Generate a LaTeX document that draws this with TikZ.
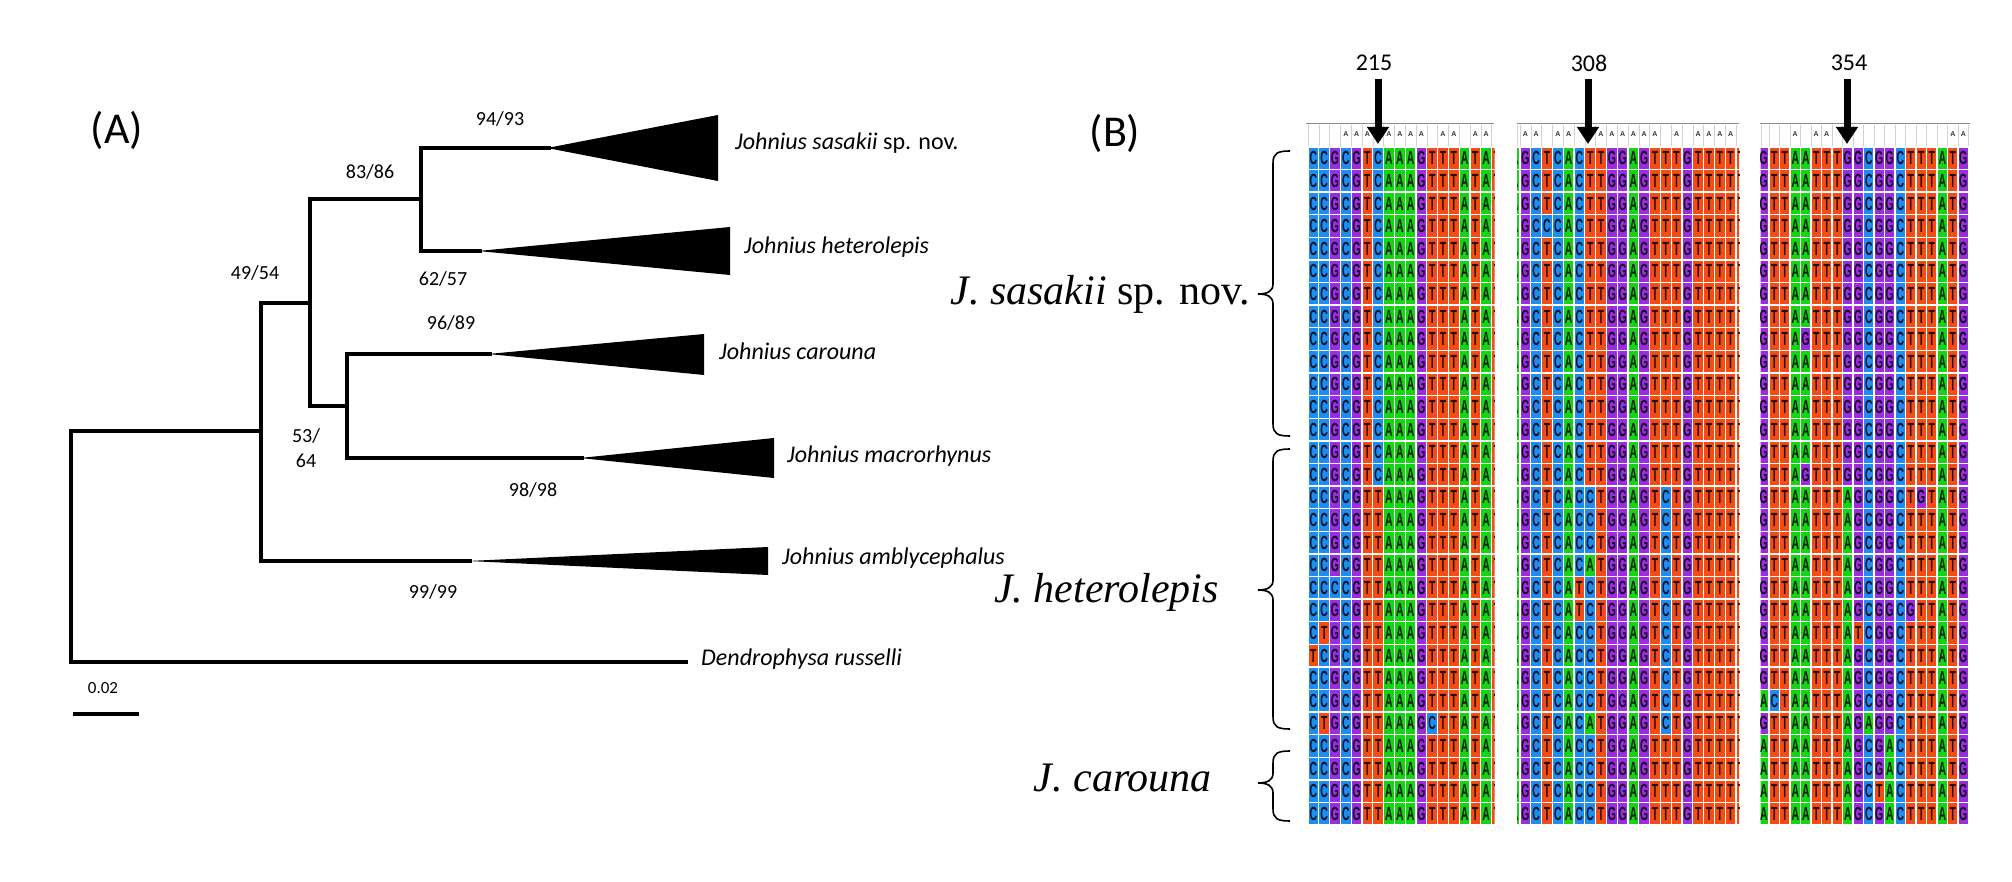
\documentclass[tikz,border=0pt]{standalone}
\usepackage{fontspec}
\usepackage{graphicx}
\setmainfont{Carlito}
\newfontfamily\tnr{Liberation Serif}
\newfontfamily\cellfont{Liberation Sans}
\usetikzlibrary{arrows.meta}
\definecolor{cA}{RGB}{20,212,20}
\definecolor{cC}{RGB}{30,140,240}
\definecolor{cG}{RGB}{155,45,225}
\definecolor{cT}{RGB}{245,75,20}
\newcommand\fsz[1]{\fontsize{#1}{#1}\selectfont}
\newcount\cellno
\def\alnrow#1#2#3#4{\def\acx{#1}\pgfmathsetmacro\acy{#2}\def\acw{#3}\edef\alnstr{#4}\expandafter\alnnext\alnstr\relax}
\def\alnnext#1{\ifx#1\relax\let\alnnx\relax\else\def\alnch{#1}\let\alnnx\alndo\fi\alnnx}
\def\alndo{\alncell\alnnext}
\def\alncell{%
  \global\advance\cellno by 1
  \fill[fill=c\alnch] (\acx+0.6,\acy+0.7) rectangle (\acx+\acw-0.6,\acy+21.9);
  \node[cellletter] (cl\the\cellno) at (\acx+\acw/2,\acy+11.3) {\scalebox{0.55}[1]{\alnch}};
  \pgfmathsetmacro\acx{\acx+\acw}}
\def\Pa{CCGCGTCAAAGTTTATAT}
\def\Pb{CCGCGTTAAAGTTTATAT}
\def\Qa{AGCTCACTTGGAGTTTGTTTTT}
\def\Qb{AGCTCACCTGGAGTCTGTTTTT}
\def\Qc{AGCTCACCTGGAGTTTGTTTTT}
\def\Ra{GTTAATTTGGCGGCTTTATG}
\def\Rb{GTTAATTTAGCGGCTTTATG}
\newcommand\mybrace[3]{%
  \draw[bracestyle] (1290,#1) .. controls (1278,#1) and (1273,#1+2) .. (1273,#1+12) -- (1273,#3-10) .. controls (1273,#3-3) and (1268,#3) .. (1258,#3) .. controls (1268,#3) and (1273,#3+3) .. (1273,#3+10) -- (1273,#2-12) .. controls (1273,#2-2) and (1278,#2) .. (1290,#2);}
\begin{document}
\begin{tikzpicture}[x=1pt,y=-1pt,
  branch/.style={line width=3.3pt,line join=miter},
  clade/.style={fill=black},
  blab/.style={font=\fsz{20},inner sep=0pt},
  sp/.style={font=\fsz{24}\itshape,inner sep=0pt,anchor=west},
  panel/.style={font=\fsz{44},inner sep=0pt},
  jlab/.style={font=\tnr\fsz{42}\itshape,inner sep=0pt,anchor=east},
  bracestyle/.style={line width=1.6pt},
  cellletter/.style={font=\cellfont\bfseries\fsz{19},inner sep=0pt,text=black,text opacity=0.85},
  hdrline/.style={draw=black!45,line width=1pt},
  hdrsep/.style={draw=black!18,line width=0.6pt},
  hmark/.style={font=\cellfont\bfseries\fsz{7},inner sep=0pt,text=black!80},
  bigarrow/.style={line width=7pt,-{Triangle[width=21pt,length=17pt]}},
  poslab/.style={font=\fsz{24},inner sep=0pt}]
\fill[white] (0,0) rectangle (2012,882);
\useasboundingbox (0,0) rectangle (2012,882);
% ---------------- (A) tree ----------------
\node[panel] (pA) at (117,130) {(A)};
\coordinate (root) at (71,431);
\coordinate (n1) at (261,431);
\coordinate (n2) at (310,303);
\coordinate (n3) at (421,199);
\coordinate (n4) at (347,406);
\coordinate (tsas) at (551,148);
\coordinate (thet) at (482,251);
\coordinate (tcar) at (492,354);
\coordinate (tmac) at (584,458);
\coordinate (tamb) at (472,561);
\coordinate (dend) at (688,662);
\draw[branch] (n1) -- (root) |- (dend);
\draw[branch] (n2) -| (n1) |- (tamb);
\draw[branch] (n3) -| (n2) |- (n4);
\draw[branch] (tsas) -| (n3) |- (thet);
\draw[branch] (tcar) -| (n4) |- (tmac);
\fill[clade] ([xshift=-4pt]tsas) -- (718,115) -- (718,181) -- cycle;
\fill[clade] ([xshift=-4pt]thet) -- (730,227) -- (730,275) -- cycle;
\fill[clade] ([xshift=-4pt]tcar) -- (704,334) -- (704,375) -- cycle;
\fill[clade] ([xshift=-4pt]tmac) -- (774,438) -- (774,478) -- cycle;
\fill[clade] ([xshift=-4pt]tamb) -- (768,547) -- (768,575) -- cycle;
\node[blab] (b1) at (500,119) {94/93};
\node[blab] (b2) at (370,172) {83/86};
\node[blab] (b3) at (443,279) {62/57};
\node[blab] (b4) at (255,273) {49/54};
\node[blab] (b5) at (451,323) {96/89};
\node[blab] (b6) at (306,436) {53/};
\node[blab] (b7) at (306,461) {64};
\node[blab] (b8) at (533,490) {98/98};
\node[blab] (b9) at (433,592) {99/99};
\node[sp] (s1) at (735,143) {Johnius sasakii \upshape sp. nov.};
\node[sp] (s2) at (744,247) {Johnius heterolepis};
\node[sp] (s3) at (719,351) {Johnius carouna};
\node[sp] (s4) at (787,456) {Johnius macrorhynus};
\node[sp] (s5) at (782,558) {Johnius amblycephalus};
\node[sp] (s6) at (701,659) {Dendrophysa russelli};
\node[blab,font=\fsz{17}] (sc) at (103,688) {0.02};
\coordinate (sb1) at (73,714);
\coordinate (sb2) at (139,714);
\draw[line width=4.5pt] (sb1) -- (sb2);
% ---------------- (B) alignment ----------------
\node[panel] (pB) at (1115,133) {(B)};
\begin{scope}
\clip (1308,146) rectangle (1494.5,826);
\foreach \s [count=\r] in {\Pa,\Pa,\Pa,\Pa,\Pa,\Pa,\Pa,\Pa,\Pa,\Pa,\Pa,\Pa,\Pa,\Pa,\Pa,
  \Pb,\Pb,\Pb,\Pb,CCCCGTTAAAGTTTATAT,\Pb,CTGCGTTAAAGTTTATAT,TCGCGTTAAAGTTTATAT,\Pb,\Pb,
  CTGCGTTAAAGCTTATAT,\Pb,\Pb,\Pb,\Pb}
  {\alnrow{1308}{147+(\r-1)*22.6}{10.8}{\s}}
\end{scope}
\begin{scope}
\clip (1517,146) rectangle (1739,826);
\foreach \s [count=\r] in {\Qa,\Qa,\Qa,AGCCCACTTGGAGTTTGTTTTT,\Qa,\Qa,\Qa,\Qa,\Qa,\Qa,\Qa,\Qa,\Qa,\Qa,\Qa,
  \Qb,\Qb,\Qb,AGCTCACATGGAGTCTGTTTTT,AGCTCATCTGGAGTCTGTTTTT,AGCTCATCTGGAGTCTGTTTTT,
  \Qb,\Qb,\Qb,\Qb,AGCTCACATGGAGTCTGTTTTT,\Qc,\Qc,\Qc,\Qc}
  {\alnrow{1509.2}{147+(\r-1)*22.6}{10.8}{\s}}
\end{scope}
\begin{scope}
\clip (1760.5,146) rectangle (1969.5,826);
\foreach \s [count=\r] in {\Ra,\Ra,\Ra,\Ra,\Ra,\Ra,\Ra,\Ra,GTTAGTTTGGCGGCTTTATG,\Ra,\Ra,\Ra,\Ra,\Ra,
  GTTAGTTTGGCGGCTTTATG,GTTAATTTAGCGGCTGTATG,\Rb,\Rb,\Rb,\Rb,GTTAATTTAGCGGCGTTATG,
  GTTAATTTATCGGCTTTATG,\Rb,\Rb,ACTAATTTAGCGGCTTTATG,GTTAATTTAGAGGCTTTATG,
  ATTAATTTAGCGACTTTATG,ATTAATTTAGCGACTTTATG,ATTAATTTAGCTACTTTATG,ATTAATTTAGCGACTTTATG}
  {\alnrow{1758.5}{147+(\r-1)*22.6}{10.5}{\s}}
\end{scope}
% headers
\draw[hdrline] (1306,124) -- (1494,124);
\draw[hdrline] (1517,124) -- (1739,124);
\draw[hdrline] (1760,124) -- (1970,124);
\foreach \k in {0,...,17} \draw[hdrsep] (1308+10.8*\k,125) -- ++(0,21);
\foreach \k in {0,...,20} \draw[hdrsep] (1520+10.8*\k,125) -- ++(0,21);
\draw[hdrsep] (1517,125) -- ++(0,21);
\foreach \k in {0,...,19} \draw[hdrsep] (1769+10.5*\k,125) -- ++(0,21);
\draw[hdrsep] (1761,125) -- ++(0,21);
\foreach \k in {3,4,5,7,8,9,10,12,13,15,16} \node[hmark] (ha\k) at (1308+10.8*\k+5.4,134) {A};
\foreach \k in {0,1,3,4,7,8,9,10,11,12,14,16,17,18,19} \node[hmark] (hb\k) at (1520+10.8*\k+5.4,134) {A};
\foreach \k in {2,4,5,17,18} \node[hmark] (hc\k) at (1769+10.5*\k+5.25,134) {A};
% arrows
\node[poslab] (p215) at (1374,63) {215};
\node[poslab] (p308) at (1589,63) {308};
\node[poslab] (p354) at (1849,63) {354};
\coordinate (a1s) at (1378,79); \coordinate (a1e) at (1378,144);
\coordinate (a2s) at (1588,79); \coordinate (a2e) at (1588,144);
\coordinate (a3s) at (1847,79); \coordinate (a3e) at (1847,144);
\draw[bigarrow] (a1s) -- (a1e);
\draw[bigarrow] (a2s) -- (a2e);
\draw[bigarrow] (a3s) -- (a3e);
% braces and labels
\mybrace{151}{436}{294}
\mybrace{449}{729}{590}
\mybrace{751}{821}{783}
\node[jlab] (j1) at (1250,294) {J. sasakii \upshape sp. nov.};
\node[jlab] (j2) at (1219,592) {J. heterolepis};
\node[jlab] (j3) at (1212,778) {J. carouna};
\end{tikzpicture}
\end{document}
